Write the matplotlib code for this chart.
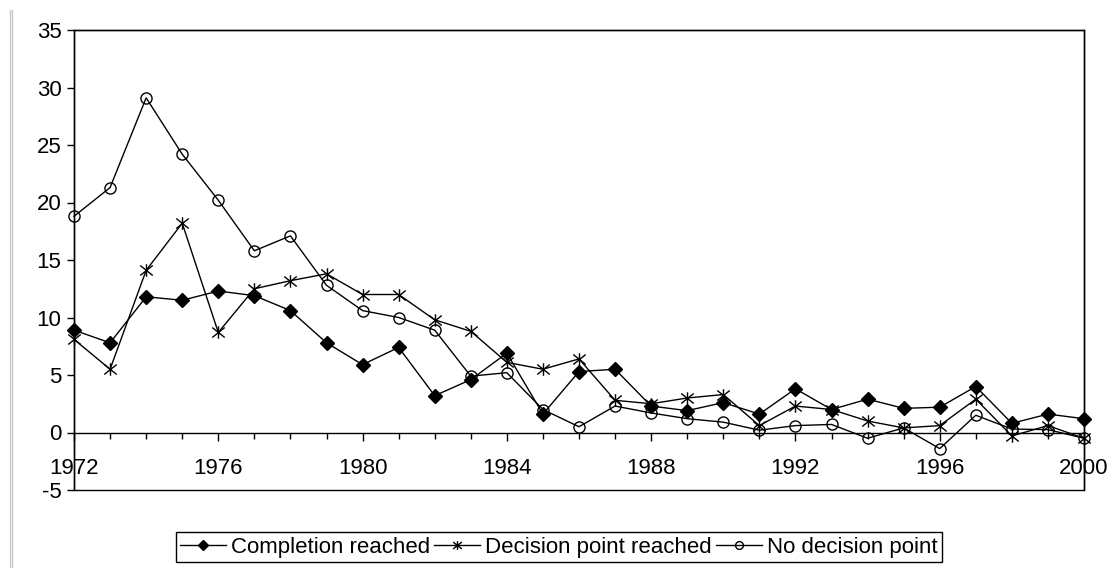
import matplotlib
matplotlib.use("Agg")
import matplotlib.pyplot as plt
from matplotlib.lines import Line2D
from matplotlib.path import Path
from matplotlib.patches import Rectangle
from matplotlib.ticker import MultipleLocator

plt.rcParams['font.family'] = ['Liberation Sans', 'DejaVu Sans']
plt.rcParams['axes.unicode_minus'] = False

years = list(range(1972, 2001))

# values
completion = [8.9, 7.8, 11.8, 11.5, 12.3, 11.9, 10.6, 7.8, 5.9, 7.4,
              3.2, 4.6, 6.9, 1.6, 5.3, 5.5, 2.3, 1.9, 2.6, 1.6,
              3.8, 2.0, 2.9, 2.1, 2.2, 4.0, 0.8, 1.6, 1.2]
decision = [8.1, 5.5, 14.1, 18.2, 8.7, 12.5, 13.2, 13.8, 12.0, 12.0,
            9.8, 8.8, 6.1, 5.5, 6.4, 2.8, 2.5, 3.0, 3.3, 0.6,
            2.3, 2.0, 1.0, 0.4, 0.6, 2.9, -0.3, 0.6, -0.5]
no_decision = [18.8, 21.3, 29.1, 24.2, 20.2, 15.8, 17.1, 12.8, 10.6, 10.0,
               8.9, 4.9, 5.2, 2.0, 0.5, 2.3, 1.7, 1.2, 0.9, 0.2,
               0.6, 0.7, -0.5, 0.4, -1.4, 1.5, 0.3, 0.25, -0.5]

labels = ["Completion reached", "Decision point reached", "No decision point"]

# asterisk marker like excel's: an X with a vertical bar through it
star = Path([(-1, -0.8), (1, 0.8), (-1, 0.8), (1, -0.8), (0, -1), (0, 1)],
            [Path.MOVETO, Path.LINETO, Path.MOVETO, Path.LINETO, Path.MOVETO, Path.LINETO])

fig = plt.figure(figsize=(11.15, 5.68), dpi=100)
ax = fig.add_axes([74 / 1115, 1 - 490 / 568, (1084 - 74) / 1115, (490 - 30) / 568])

ax.plot(years, completion, color='black', lw=1, marker='D', markersize=7,
        markerfacecolor='black', markeredgecolor='black', clip_on=False, zorder=3)
ax.plot(years, decision, color='black', lw=1, marker=star, markersize=9,
        markerfacecolor='none', markeredgecolor='black', markeredgewidth=1, clip_on=False, zorder=3)
ax.plot(years, no_decision, color='black', lw=1, marker='o', markersize=8,
        markerfacecolor='none', markeredgecolor='black', markeredgewidth=1, clip_on=False, zorder=3)

ax.set_xlim(1972, 2000)
ax.set_ylim(-5, 35)

# x axis crosses at zero, box drawn separately around the plot area
ax.spines['bottom'].set_position(('data', 0))
for s in ax.spines.values():
    s.set_linewidth(1)
ax.add_patch(Rectangle((0, 0), 1, 1, transform=ax.transAxes, fill=False,
                       edgecolor='black', lw=1, clip_on=False, zorder=4))

ax.xaxis.set_major_locator(MultipleLocator(4))
ax.xaxis.set_minor_locator(MultipleLocator(1))
ax.yaxis.set_major_locator(MultipleLocator(5))
ax.tick_params(axis='x', which='major', direction='out', length=6, width=1,
               labelsize=16, pad=12, top=False)
ax.tick_params(axis='x', which='minor', direction='out', length=4.5, width=1, top=False)
ax.tick_params(axis='y', direction='out', length=5, width=1, labelsize=16, pad=4, right=False)

handles = [
    Line2D([], [], color='black', lw=1, marker='D', markersize=7, markerfacecolor='black'),
    Line2D([], [], color='black', lw=1, marker=star, markersize=9, markerfacecolor='none'),
    Line2D([], [], color='black', lw=1, marker='o', markersize=8, markerfacecolor='none'),
]
leg = fig.legend(handles, labels, loc='center', bbox_to_anchor=(559 / 1115, 1 - 547 / 568),
                 ncol=3, fontsize=16, frameon=True, fancybox=False, edgecolor='black',
                 framealpha=1, handlelength=2.07, handletextpad=0.22, columnspacing=0.18,
                 borderpad=0.2, markerscale=0.7)
leg.get_frame().set_linewidth(1)

# light grey page border on the left
for xpix in (10, 12):
    fig.add_artist(Line2D([xpix / 1115, xpix / 1115], [0, 1 - 10 / 568],
                          color='#c8c8c8', lw=1, transform=fig.transFigure))

fig.savefig("out.png", dpi=100)
